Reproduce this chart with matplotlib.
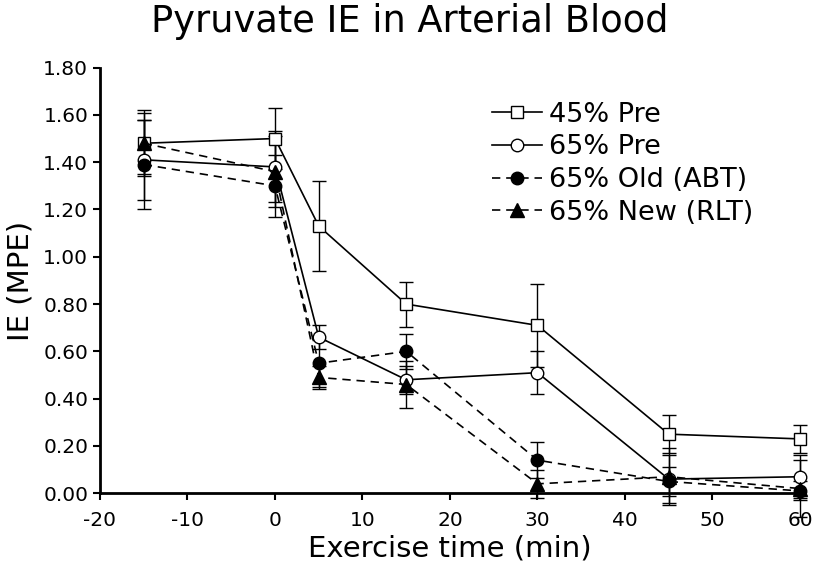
import matplotlib
matplotlib.use("Agg")
import matplotlib.pyplot as plt

plt.rcParams["font.family"] = ["DejaVu Sans"]
plt.rcParams["axes.unicode_minus"] = False

time = [-15, 0, 5, 15, 30, 45, 60]

pre45 = [1.48, 1.50, 1.13, 0.80, 0.71, 0.25, 0.23]
pre45_err = [0.14, 0.13, 0.19, 0.095, 0.175, 0.08, 0.06]

pre65 = [1.41, 1.38, 0.66, 0.48, 0.51, 0.06, 0.07]
pre65_err = [0.17, 0.15, 0.05, 0.06, 0.09, 0.10, 0.09]

old65 = [1.39, 1.30, 0.55, 0.60, 0.14, 0.05, 0.01]
old65_err = [0.19, 0.13, 0.10, 0.075, 0.075, 0.06, 0.04]

new65 = [1.48, 1.36, 0.49, 0.46, 0.04, 0.07, 0.02]
new65_err = [0.13, 0.15, 0.05, 0.10, 0.06, 0.12, 0.12]

series = [
    ("45% Pre", pre45, pre45_err, "s", "white", "-", 9),
    ("65% Pre", pre65, pre65_err, "o", "white", "-", 9),
    ("65% Old (ABT)", old65, old65_err, "o", "black", (0, (5, 3.5)), 9),
    ("65% New (RLT)", new65, new65_err, "^", "black", (0, (5, 3.5)), 9.5),
]

fig = plt.figure(figsize=(8.19, 5.65), dpi=100)
ax = fig.add_axes([0.1221, 0.1269, 0.8547, 0.7535])

for label, y, err, mk, fc, ls, ms in series:
    ax.errorbar(time, y, yerr=err, fmt="none", ecolor="black", elinewidth=1.0,
                capsize=5, capthick=1.0, zorder=2, clip_on=False)
    ax.plot(time, y, linestyle=ls, color="black", lw=1.2, marker=mk,
            markerfacecolor=fc, markeredgecolor="black", markeredgewidth=1.0,
            markersize=ms, label=label, zorder=3, clip_on=False)

ax.set_xlim(-20, 60)
ax.set_ylim(0, 1.80)
ax.set_xticks(range(-20, 61, 10))
ax.set_yticks([i * 0.2 for i in range(10)])
ax.set_yticklabels([f"{i * 0.2:.2f}" for i in range(10)])
ax.tick_params(axis="both", labelsize=14.5, direction="out", length=5, width=1.5)
ax.tick_params(axis="x", pad=8)
ax.spines["top"].set_visible(False)
ax.spines["right"].set_visible(False)
ax.spines["left"].set_linewidth(2)
ax.spines["bottom"].set_linewidth(2)

ax.set_xlabel("Exercise time (min)", fontsize=21, labelpad=3)
ax.set_ylabel("IE (MPE)", fontsize=21, labelpad=6)
fig.text(0.5, 0.995, "Pyruvate IE in Arterial Blood", fontsize=26.5,
         ha="center", va="top")

ax.legend(loc="upper left", bbox_to_anchor=(0.56, 0.92), frameon=False,
          fontsize=19.5, handlelength=1.85, handletextpad=0.25,
          labelspacing=0.25, borderaxespad=0, borderpad=0)

fig.savefig("out.png", dpi=100)
